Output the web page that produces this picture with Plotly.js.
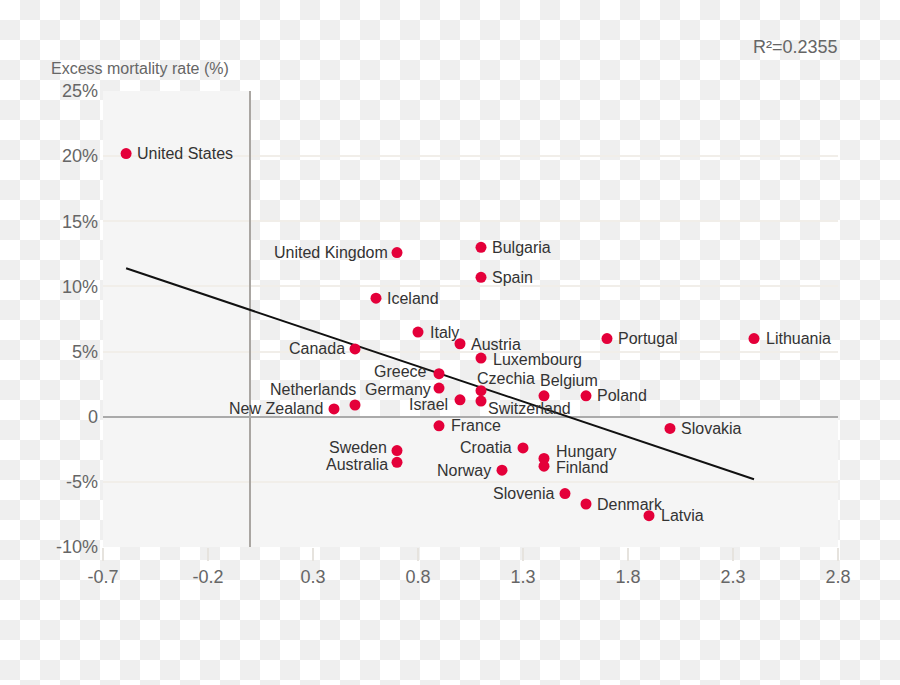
<!DOCTYPE html>
<html>
<head>
<meta charset="utf-8">
<script src="https://cdn.plot.ly/plotly-3.0.1.min.js"></script>
<style>
html, body { margin:0; padding:0; width:900px; height:685px; overflow:hidden;
  background: repeating-conic-gradient(#efefef 0 25%, #ffffff 0 50%) 0 0 / 40px 40px; }
#chart { width:900px; height:685px; }
</style>
</head>
<body>
<div id="chart"></div>
<script>
// ---- data ----
const countries = ['United States','United Kingdom','Bulgaria','Spain','Iceland','Italy','Austria','Canada','Luxembourg','Portugal','Lithuania','Greece','Germany','Czechia','Netherlands','New Zealand','Israel','Switzerland','Belgium','Poland','France','Slovakia','Sweden','Australia','Croatia','Hungary','Finland','Norway','Slovenia','Denmark','Latvia'];
const xValues = [-0.59,0.7,1.1,1.1,0.6,0.8,1.0,0.5,1.1,1.7,2.4,0.9,0.9,1.1,0.5,0.4,1.0,1.1,1.4,1.6,0.9,2.0,0.7,0.7,1.3,1.4,1.4,1.2,1.5,1.6,1.9];
const excessMortality = [20.2,12.6,13.0,10.7,9.1,6.5,5.6,5.2,4.5,6.0,6.0,3.3,2.2,2.0,0.9,0.6,1.3,1.2,1.6,1.6,-0.7,-0.9,-2.6,-3.5,-2.4,-3.2,-3.8,-4.1,-5.9,-6.7,-7.6];
const trendX = [-0.59, 2.4];
const trendY = [11.4, -4.8];
const xTickVals = [-0.7,-0.2,0.3,0.8,1.3,1.8,2.3,2.8];
const xTickText = ['-0.7','-0.2','0.3','0.8','1.3','1.8','2.3','2.8'];
const yTickVals = [-10,-5,0,5,10,15,20,25];
const yTickText = ['-10%','-5%','0','5%','10%','15%','20%','25%'];
const yAxisTitle = 'Excess mortality rate (%)';
const rSquaredText = 'R\u00b2=0.2355';

// ---- label placement (side, horizontal gap px, vertical shift px) ----
const labelPlacement = {
  'United States':['R',11,0], 'United Kingdom':['L',9,0], 'Bulgaria':['R',11,0], 'Spain':['R',11,0],
  'Iceland':['R',11,0], 'Italy':['R',12,0], 'Austria':['R',11,-1], 'Canada':['L',10,0],
  'Luxembourg':['R',12,-1], 'Portugal':['R',11,0], 'Lithuania':['R',12,0], 'Greece':['L',12,2],
  'Germany':['L',8,-1], 'Czechia':['R',-4,12], 'Netherlands':['L',-1,15], 'New Zealand':['L',11,0],
  'Israel':['L',12,-5], 'Switzerland':['R',7,-7], 'Belgium':['R',-4,15], 'Poland':['R',11,0],
  'France':['R',12,0], 'Slovakia':['R',11,0], 'Sweden':['L',10,3], 'Australia':['L',9,-2],
  'Croatia':['L',11,0], 'Hungary':['R',12,7], 'Finland':['R',12,-1], 'Norway':['L',11,0],
  'Slovenia':['L',11,0], 'Denmark':['R',11,0], 'Latvia':['R',12,0]
};

const FONT = 'Liberation Sans, Arial, sans-serif';
const labelColor = '#333333';
const tickColor = '#666666';

const annotations = countries.map((c, i) => {
  const p = labelPlacement[c];
  const right = p[0] === 'R';
  return {
    x: xValues[i], y: excessMortality[i], xref: 'x', yref: 'y',
    text: c, showarrow: false,
    xanchor: right ? 'left' : 'right', yanchor: 'middle',
    xshift: right ? p[1] - 2 : -(p[1] - 2), yshift: p[2],
    font: { family: FONT, size: 16, color: labelColor }
  };
});
annotations.push({
  xref: 'paper', yref: 'paper', x: 0, y: 1, xanchor: 'left', yanchor: 'middle',
  xshift: -54, yshift: 23, text: yAxisTitle, showarrow: false,
  font: { family: FONT, size: 16, color: tickColor }
});
annotations.push({
  xref: 'paper', yref: 'paper', x: 1, y: 1, xanchor: 'right', yanchor: 'middle',
  xshift: 2, yshift: 44, text: rSquaredText, showarrow: false,
  font: { family: FONT, size: 18, color: tickColor }
});

const traces = [
  { x: trendX, y: trendY, mode: 'lines', type: 'scatter',
    line: { color: '#111111', width: 2 }, hoverinfo: 'skip' },
  { x: xValues, y: excessMortality, text: countries, mode: 'markers', type: 'scatter',
    marker: { color: '#e4003a', size: 11, line: { width: 0 } } }
];

const shade = '#f5f5f5';
const layout = {
  width: 900, height: 685,
  margin: { l: 103, r: 62, t: 91, b: 138 },
  paper_bgcolor: 'rgba(0,0,0,0)', plot_bgcolor: 'rgba(0,0,0,0)',
  showlegend: false, hovermode: false,
  font: { family: FONT, color: tickColor },
  xaxis: {
    range: [-0.7, 2.8], tickmode: 'array', tickvals: xTickVals, ticktext: xTickText,
    showgrid: false, zeroline: true, zerolinecolor: '#aaa6a2', zerolinewidth: 2,
    ticks: 'outside', ticklen: 13, tickwidth: 2, tickcolor: '#e6e3de',
    tickfont: { family: FONT, size: 18, color: tickColor }, showline: false
  },
  yaxis: {
    range: [-10, 25], tickmode: 'array', tickvals: yTickVals, ticktext: yTickText,
    showgrid: true, gridcolor: '#f1eee9', gridwidth: 2,
    zeroline: true, zerolinecolor: '#aaaaaa', zerolinewidth: 2,
    ticks: '', ticklabelstandoff: 4,
    tickfont: { family: FONT, size: 18, color: tickColor }, showline: false
  },
  shapes: [
    { type: 'rect', xref: 'x', yref: 'y', x0: -0.7, x1: 0, y0: -10, y1: 25,
      fillcolor: shade, line: { width: 0 }, layer: 'below' },
    { type: 'rect', xref: 'x', yref: 'y', x0: 0, x1: 2.8, y0: -10, y1: 0,
      fillcolor: shade, line: { width: 0 }, layer: 'below' }
  ],
  annotations: annotations
};

Plotly.newPlot('chart', traces, layout, { staticPlot: true, displayModeBar: false });
</script>
</body>
</html>
